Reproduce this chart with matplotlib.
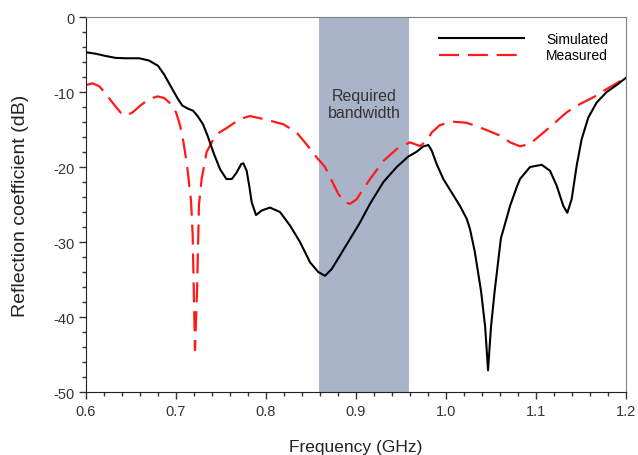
import matplotlib
matplotlib.use("Agg")
import matplotlib.pyplot as plt
from matplotlib.ticker import MultipleLocator, FuncFormatter

plt.rcParams['font.family'] = ['Liberation Sans', 'DejaVu Sans']

# Simulated reflection coefficient (frequency in GHz, value in dB)
sim_f = [0.600, 0.611, 0.622, 0.633, 0.644, 0.659, 0.670, 0.680, 0.687, 0.694,
         0.702, 0.707, 0.713, 0.719, 0.724, 0.730, 0.735, 0.742, 0.749, 0.756,
         0.762, 0.767, 0.7725, 0.7748, 0.7785, 0.7815, 0.7841, 0.7889, 0.7952, 0.8044,
         0.8156, 0.8267, 0.8378, 0.8489, 0.8581, 0.8656, 0.873, 0.8822, 0.8933, 0.9044,
         0.9156, 0.9304, 0.9452, 0.9581, 0.9674, 0.9748, 0.9804, 0.9841, 0.9896, 0.997,
         1.0063, 1.0156, 1.023, 1.0267, 1.032, 1.039, 1.0435, 1.0467, 1.050, 1.054,
         1.061, 1.0674, 1.0711, 1.0785, 1.0822, 1.0933, 1.1063, 1.1156, 1.123, 1.1304,
         1.1348, 1.1396, 1.1452, 1.1507, 1.1581, 1.1674, 1.1785, 1.1896, 1.200]
sim_db = [-4.7, -4.9, -5.2, -5.45, -5.5, -5.5, -5.8, -6.5, -7.7, -9.2,
          -10.9, -11.8, -12.2, -12.5, -13.2, -14.3, -15.8, -18.2, -20.3, -21.6,
          -21.6, -20.8, -19.6, -19.5, -20.5, -22.6, -24.7, -26.4, -25.8, -25.4,
          -26.0, -27.8, -30.0, -32.7, -34.0, -34.5, -33.6, -31.8, -29.6, -27.4,
          -24.9, -22.0, -20.0, -18.6, -17.96, -17.24, -17.07, -17.8, -19.6, -21.6,
          -23.4, -25.2, -26.9, -28.3, -31.3, -36.6, -41.3, -47.1, -41.3, -36.6,
          -29.5, -26.8, -25.2, -22.7, -21.6, -20.0, -19.7, -20.5, -22.5, -25.2,
          -26.1, -24.3, -19.8, -16.3, -13.4, -11.4, -10.0, -9.07, -8.1]

# Measured reflection coefficient
meas_f = [0.600, 0.6074, 0.6148, 0.6222, 0.6315, 0.6389, 0.6444, 0.6519, 0.6611, 0.6704,
          0.6796, 0.687, 0.6944, 0.700, 0.7044, 0.708, 0.712, 0.7148, 0.7167, 0.7185,
          0.7200, 0.7211, 0.7235, 0.7255, 0.7285, 0.734, 0.7415, 0.7481, 0.7563, 0.7711,
          0.7822, 0.8007, 0.8193, 0.8341, 0.8452, 0.8563, 0.8656, 0.873, 0.8804, 0.8878,
          0.8933, 0.9007, 0.9081, 0.9156, 0.9304, 0.9452, 0.960, 0.9711, 0.9785, 0.9841,
          0.9933, 1.0081, 1.023, 1.0415, 1.060, 1.0711, 1.0822, 1.0933, 1.1044, 1.1193,
          1.1341, 1.1489, 1.1637, 1.1785, 1.200]
meas_db = [-9.07, -8.84, -9.24, -10.27, -11.73, -12.8, -13.16, -12.7, -11.73, -10.93,
           -10.58, -10.8, -11.6, -12.7, -14.4, -16.5, -19.5, -22.5, -24.5, -29.0,
           -38.0, -44.4, -36.0, -25.0, -21.6, -18.0, -16.3, -15.4, -14.8, -13.6,
           -13.2, -13.7, -14.3, -15.4, -17.0, -18.7, -20.0, -21.8, -23.6, -24.7,
           -24.9, -24.3, -22.9, -21.6, -19.2, -17.6, -16.7, -17.2, -16.5, -15.4,
           -14.4, -13.96, -14.1, -14.9, -15.8, -16.7, -17.24, -16.9, -15.8, -14.27,
           -12.7, -11.6, -10.7, -9.6, -8.1]

band = [0.859, 0.9585]

fig = plt.figure(figsize=(6.38, 4.56), dpi=100)
ax = fig.add_axes([0.1348, 0.138, 0.8464, 0.8225])

ax.axvspan(band[0], band[1], color='#aab4c8', lw=0, zorder=0)
ax.plot(sim_f, sim_db, color='black', lw=1.5, label='Simulated', zorder=3,
        solid_joinstyle='round')
ax.plot(meas_f, meas_db, color='#ff1a1a', lw=1.6, dashes=(9, 4), label='Measured', zorder=2)

ax.text(sum(band) / 2, -11.6, 'Required\nbandwidth', ha='center', va='center',
        fontsize=11.5, color='#333333', linespacing=1.2)

ax.set_xlim(0.6, 1.2)
ax.set_ylim(-50, 0)
ax.xaxis.set_major_locator(MultipleLocator(0.1))
ax.xaxis.set_minor_locator(MultipleLocator(0.02))
ax.yaxis.set_major_locator(MultipleLocator(10))
ax.yaxis.set_minor_locator(MultipleLocator(2))
ax.xaxis.set_major_formatter(FuncFormatter(lambda v, p: f"{v:.1f}"))
ax.yaxis.set_major_formatter(FuncFormatter(lambda v, p: "0" if abs(v) < 1e-9 else f"{v:.0f}"))
ax.tick_params(which='major', direction='out', length=5, width=1, labelsize=10.5,
               colors='#333333')
ax.tick_params(which='minor', direction='out', length=3, width=1, colors='#333333')
ax.tick_params(top=False, right=False, which='both')

for s in ['left', 'bottom']:
    ax.spines[s].set_color('#222222')
for s in ['top', 'right']:
    ax.spines[s].set_color('#808080')

ax.set_xlabel('Frequency (GHz)', fontsize=12.5, color='#222222', labelpad=15)
ax.set_ylabel('Reflection coefficient (dB)', fontsize=14, color='#222222', labelpad=17)

leg = ax.legend(loc='upper right', frameon=False, fontsize=10, handlelength=6.1,
                borderaxespad=0.3, handletextpad=1.6, labelspacing=0.15,
                bbox_to_anchor=(0.985, 0.985))

fig.savefig('out.png', dpi=100)
